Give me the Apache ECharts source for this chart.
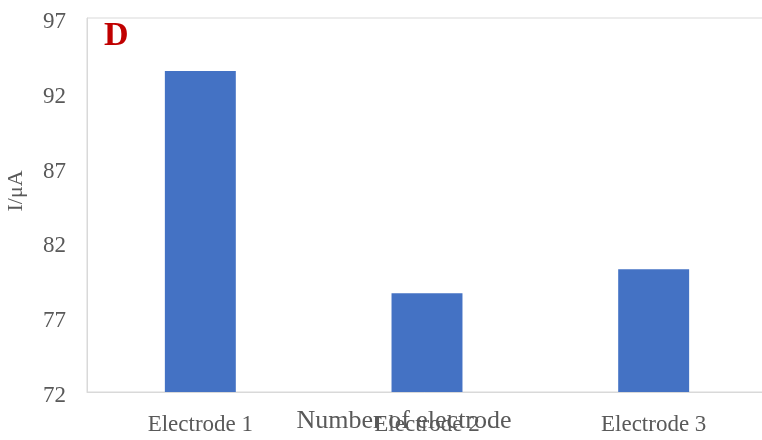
<!DOCTYPE html>
<html>
<head>
<meta charset="utf-8">
<script src="https://cdn.jsdelivr.net/npm/echarts@6/dist/echarts.min.js"></script>
<style>html,body{margin:0;padding:0;background:#fff}#c{width:762px;height:440px}</style>
</head>
<body>
<div id="c"></div>
<script>
const categories = ['Electrode 1', 'Electrode 2', 'Electrode 3'];
const currentValues = [93.45, 78.6, 80.2];
const yMin = 72, yMax = 97, yStep = 5;
const panelLabel = 'D';
const xTitle = 'Number of electrode';
const yTitle = 'I/μA';

const serif = '"Liberation Serif", "Times New Roman", serif';
const chart = echarts.init(document.getElementById('c'), null, {renderer: 'canvas'});
chart.setOption({
  animation: false,
  backgroundColor: '#fff',
  title: {
    text: panelLabel, left: 104, top: 19, padding: 0,
    textStyle: {fontFamily: serif, fontWeight: 'bold', fontSize: 34, color: '#C00000'}
  },
  grid: {left: 87, top: 18, width: 680, height: 374, show: true, borderColor: '#d9d9d9', borderWidth: 1,
         containLabel: false, outerBoundsMode: 'none'},
  xAxis: {
    type: 'category', data: categories,
    axisLine: {show: true, lineStyle: {color: '#d9d9d9', width: 1}},
    axisTick: {show: false},
    axisLabel: {fontFamily: serif, fontSize: 23, color: '#595959', margin: 21},
    name: xTitle, nameLocation: 'middle', nameGap: 16, nameMoveOverlap: false,
    nameTextStyle: {fontFamily: serif, fontSize: 26, color: '#595959', padding: [0, 46, 0, 0]}
  },
  yAxis: {
    type: 'value', min: yMin, max: yMax, interval: yStep,
    axisLine: {show: true, lineStyle: {color: '#d9d9d9', width: 1}},
    axisTick: {show: false},
    splitLine: {show: false},
    axisLabel: {fontFamily: serif, fontSize: 23, color: '#595959', margin: 21, verticalAlign: 'top', lineHeight: 8},
    name: yTitle, nameLocation: 'middle', nameRotate: 90, nameGap: 60, nameMoveOverlap: false,
    nameTextStyle: {fontFamily: serif, fontSize: 22, color: '#595959', padding: [0, 0, 0, 28]}
  },
  series: [{
    type: 'bar', data: currentValues, barWidth: '31.3%',
    itemStyle: {color: '#4472C4'}
  }]
});
</script>
</body>
</html>
